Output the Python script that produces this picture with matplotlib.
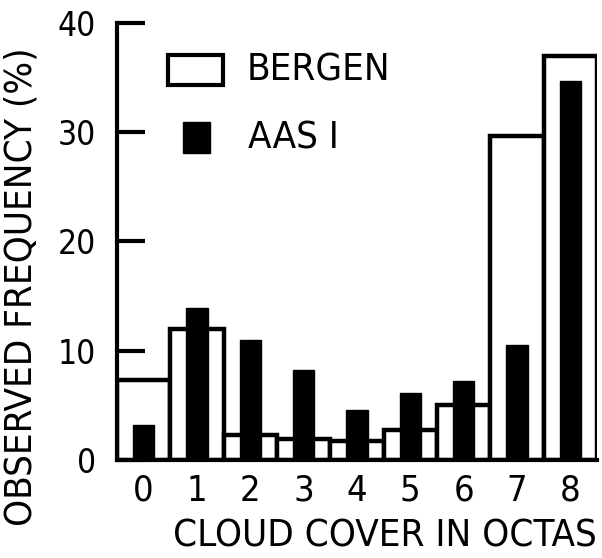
import matplotlib
matplotlib.use("Agg")
import matplotlib.pyplot as plt
from matplotlib.patches import Rectangle

# Cloud cover (octas) frequency distributions
octas = [0, 1, 2, 3, 4, 5, 6, 7, 8]
bergen = [7.3, 12.0, 2.3, 1.9, 1.7, 2.7, 5.0, 29.6, 37.0]
aas_i = [3.2, 13.9, 11.0, 8.2, 4.6, 6.1, 7.2, 10.5, 34.7]
y_ticks = [0, 10, 20, 30, 40]

plt.rcParams['font.family'] = ['DejaVu Sans']
plt.rcParams['font.stretch'] = 'condensed'
FS_YTICK = 24
FS_XTICK = 26
FS_LAB = 27.5

fig = plt.figure(figsize=(6.02, 5.58), dpi=100)
ax = fig.add_axes([0.194, 0.176, 0.798, 0.783])

lw = 3.2
ax.bar(octas, bergen, width=1.0, color='white', edgecolor='black',
       linewidth=lw, zorder=2)
ax.bar(octas, aas_i, width=0.4, color='black', edgecolor='black',
       linewidth=1, zorder=3)

ax.set_xlim(-0.5, 8.5)
ax.set_ylim(0, 40)
ax.set_xticks(octas)
ax.set_xticklabels([str(o) for o in octas], fontsize=FS_XTICK,
                   fontstretch='condensed')
ax.set_yticks(y_ticks)
ax.set_yticklabels([str(t) for t in y_ticks], fontsize=FS_YTICK,
                   fontstretch='condensed')
ax.tick_params(axis='y', direction='in', length=20, width=3, pad=15)
ax.tick_params(axis='x', length=0, pad=10)

for s in ['top', 'right']:
    ax.spines[s].set_visible(False)
for s in ['left', 'bottom']:
    ax.spines[s].set_linewidth(3)
ax.spines['left'].set_bounds(0, 40)

ax.set_xlabel('CLOUD COVER IN OCTAS', fontsize=FS_LAB, labelpad=8,
              loc='right', fontstretch='condensed')

# Rotated axis title, placed in figure coordinates
fig.text(0.036, 0.486, 'OBSERVED FREQUENCY (%)', rotation=90,
         fontsize=FS_LAB, ha='center', va='center', fontstretch='condensed')

# Legend drawn in axes coordinates
ax.add_patch(Rectangle((0.106, 0.858), 0.115, 0.069, transform=ax.transAxes,
                       facecolor='white', edgecolor='black', linewidth=3,
                       zorder=4, clip_on=False))
ax.add_patch(Rectangle((0.1375, 0.703), 0.056, 0.069, transform=ax.transAxes,
                       facecolor='black', edgecolor='black', linewidth=1,
                       zorder=4, clip_on=False))
ax.text(0.271, 0.892, 'BERGEN', transform=ax.transAxes, fontsize=FS_LAB,
        va='center', ha='left', fontstretch='condensed')
ax.text(0.273, 0.735, 'AAS I', transform=ax.transAxes, fontsize=FS_LAB,
        va='center', ha='left', fontstretch='condensed')

fig.savefig('out.png', dpi=100)
